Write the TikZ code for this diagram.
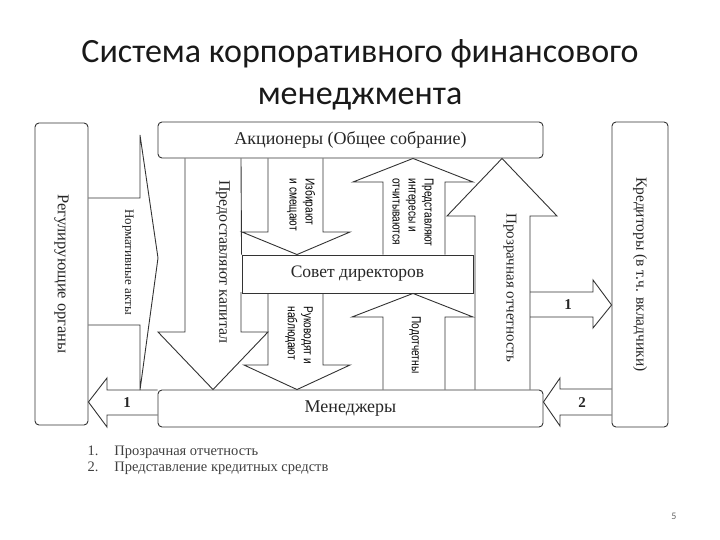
\documentclass[tikz,border=0pt]{standalone}
\usepackage{fontspec}
\setmainfont{Liberation Serif}
\newfontfamily\titlefont{Carlito}
\newfontfamily\narrowsans[FakeStretch=0.78]{Liberation Sans}
\usetikzlibrary{arrows.meta,positioning,calc}

\begin{document}
\begin{tikzpicture}[x=1pt,y=-1pt,>=Latex,
  box/.style={draw=black!80,line width=0.9pt,rounded corners=4pt,inner sep=0pt,
              text=black!85,font=\fontsize{18}{20}\selectfont},
  blk/.style={draw=black!80,line width=0.9pt,line join=miter},
  lbl/.style={text=black!85,font=\fontsize{16}{18}\selectfont},
  vlbl/.style={lbl,rotate=-90},
  slbl/.style={text=black,rotate=-90,align=left,anchor=west,
               font=\narrowsans\fontsize{13}{16}\selectfont},
  num/.style={text=black!85,font=\bfseries\fontsize{15}{16}\selectfont}]
  \useasboundingbox (0,0) rectangle (720,540);
  % title
  \node[font=\titlefont\fontsize{34}{42}\selectfont,align=center,text=black!90]
    (title) at (360,75) {Система корпоративного финансового\\менеджмента};
  % boxes
  \node[box,minimum width=53,minimum height=302] (reg) at (61.5,274) {};
  \node[vlbl,font=\fontsize{16.5}{18}\selectfont] (regtxt) at (reg)
    {Регулирующие органы};
  \node[box,minimum width=56,minimum height=305] (kred) at (640,274.5) {};
  \node[vlbl,font=\fontsize{15.5}{18}\selectfont] (kredtxt) at (kred)
    {Кредиторы (в т.ч. вкладчики)};
  \node[box,minimum width=385,minimum height=36] (akts) at (350.5,140)
    {Акционеры (Общее собрание)};
  \node[box,rounded corners=0pt,minimum width=231,minimum height=38,
        font=\fontsize{17.5}{20}\selectfont] (sovet)
    at (357.5,274) {Совет директоров};
  \node[box,minimum width=385,minimum height=37] (men) at (350.5,408.5)
    {Менеджеры};
  % block arrows
  \draw[blk] (reg.east |- 0,198) -- (140,198) -- (140,135) -- (158,258)
    -- (140,390) -- (140,325) -- (reg.east |- 0,325);
  \node[vlbl,font=\fontsize{13}{15}\selectfont] (norm) at (128,262)
    {Нормативные акты};
  \draw[blk] (akts.south -| 185,0) -- (185,332) -- (158,332)
    -- (men.north -| 213,0) -- (268,332) -- (241,332) -- (241,292)
    (sovet.north west) -- (akts.south -| 241,0);
  \node[vlbl] (kap) at (223,262) {Предоставляют капитал};
  \draw[blk] (akts.south -| 268,0) -- (268,232) -- (242,232)
    -- (sovet.north -| 297,0) -- (350,232) -- (323,232) -- (akts.south -| 323,0);
  \node[slbl] (izb) at (301,175) {Избирают\\и смещают};
  \draw[blk] (sovet.south -| 268,0) -- (268,365) -- (244,365)
    -- (men.north -| 297,0) -- (350,365) -- (323,365) -- (sovet.south -| 323,0);
  \node[slbl] (ruk) at (299,303) {Руководят и\\наблюдают};
  \draw[blk] (sovet.north -| 383,0) -- (383,182) -- (353,182)
    -- (akts.south -| 413,0) -- (473,182) -- (445,182) -- (sovet.north -| 445,0);
  \node[slbl] (pred) at (413,175) {Представляют\\интересы и\\отчитываются};
  \draw[blk] (men.north -| 383,0) -- (383,317) -- (352,317)
    -- (sovet.south -| 413,0) -- (473,317) -- (445,317) -- (men.north -| 445,0);
  \node[slbl] (podot) at (415,313) {Подотчетны};
  \draw[blk] (men.north -| 475,0) -- (475,216) -- (447,216)
    -- (akts.south -| 502,0) -- (557,216) -- (530,216) -- (men.north -| 530,0);
  \node[vlbl,font=\fontsize{15}{18}\selectfont] (prozr) at (510,288)
    {Прозрачная отчетность};
  % small arrows
  \draw[blk] (530,292) -- (593,292) -- (593,280) -- (kred.west |- 0,305)
    -- (593,328) -- (593,317) -- (530,317);
  \node[num] (n1r) at (568,305) {1};
  \draw[blk] (kred.west |- 0,389) -- (560,389) -- (560,378) -- (men.east |- 0,402)
    -- (560,426) -- (560,415) -- (kred.west |- 0,415);
  \node[num] (n2) at (582,403) {2};
  \draw[blk] (men.west |- 0,390) -- (107,390) -- (107,378) -- (reg.east |- 0,402)
    -- (107,427) -- (107,415) -- (men.west |- 0,415);
  \node[num] (n1l) at (127,403) {1};
  % legend
  \node[anchor=west,text=black!75,font=\fontsize{14.5}{16}\selectfont,align=left]
    (leg) at (84,460) {1.\hspace{16pt}Прозрачная отчетность\\
                       2.\hspace{16pt}Представление кредитных средств};
  \node[text=black!60,font=\titlefont\fontsize{10}{12}\selectfont] (page)
    at (674,516) {5};
\end{tikzpicture}
\end{document}
